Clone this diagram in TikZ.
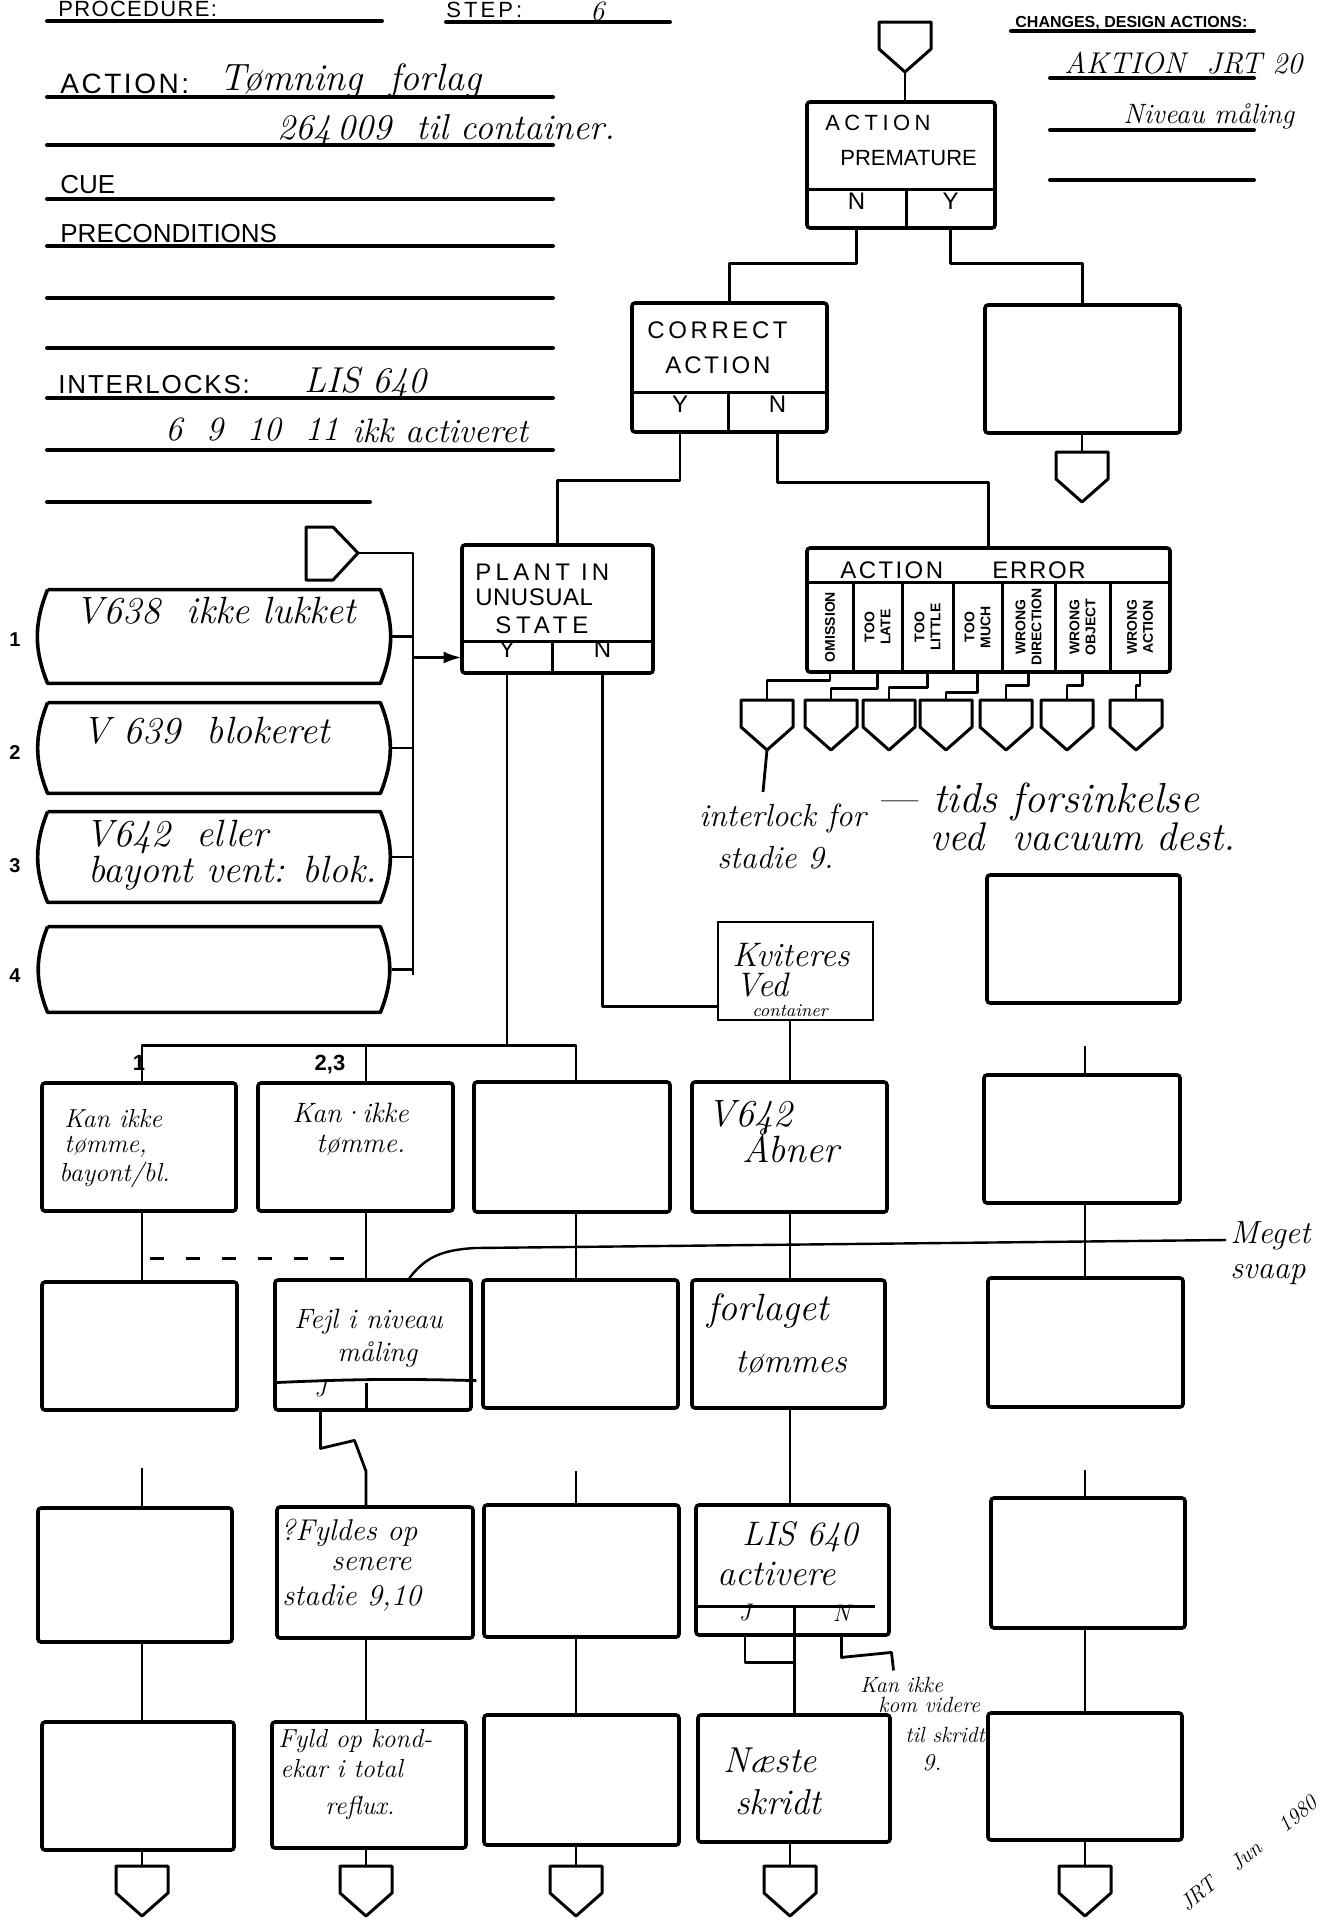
\documentclass[tikz,border=0pt]{standalone}
\usepackage{fontspec}
\newfontfamily\lett{Liberation Sans}
\usetikzlibrary{fit,calc,arrows.meta}
\newcommand\hw{\normalfont\itshape}
\newcommand\LS[1]{\addfontfeature{LetterSpace=#1}}
\tikzset{
  frame/.style={draw, line width=1.8pt, rounded corners=1.5pt, inner sep=0pt},
  hframe/.style={draw, line width=1.2pt, inner sep=0pt},
  ghost/.style={inner sep=0pt},
  cell/.style={inner sep=0pt, font=\lett\fontsize{12}{14}\selectfont},
  bline/.style={line width=1.8pt},
  conn/.style={line width=1.4pt, line join=round},
  uline/.style={line width=2pt, line cap=round},
  pentst/.style={line width=1.5pt, line join=round},
  lab/.style={inner sep=0pt, anchor=base west, font=\lett\fontsize{#1}{#1}\selectfont},
  lab/.default=13,
  hand/.style={inner sep=0pt, anchor=base west, font=\hw\fontsize{#1}{#1}\selectfont},
  hand/.default=17,
  colt/.style={inner sep=0pt, rotate=90, align=center, font=\lett\bfseries\fontsize{7}{8}\selectfont},
}
\newcommand\pentD[3]{%
  \coordinate (#1) at (#2,#3);
  \coordinate (#1-tip) at (#2,#3+50);
  \draw[pentst] (#2-26,#3) -- (#2+26,#3) -- (#2+26,#3+27) -- (#1-tip) -- (#2-26,#3+27) -- cycle;}
\newcommand\barrel[5]{%
  \node[ghost, fit={(#2,#3)(#4,#5)}] (#1) {};
  \draw[bline, line join=round] (#1.north west) -- (#1.north east) to[bend left=22] (#1.south east) -- (#1.south west) to[bend left=22] (#1.north west);}
\newcommand\frm[6][]{\node[frame,#1,fit={(#3,#4)(#5,#6)}] (#2) {};}
\newcommand\cel[6]{\node[cell,fit={(#2,#3)(#4,#5)}] (#1) {#6};}
\begin{document}
\begin{tikzpicture}[x=0.5pt,y=-0.5pt]
\useasboundingbox (0,0) rectangle (1335,1922);
\fill[white] (0,0) rectangle (1335,1922);

% ---------------- header, left
\draw[uline] (47,21) -- (382,21);
\node[lab=11] (tproc) at (58,17) {\LS{6}PROCEDURE:};
\draw[uline] (446,22) -- (670,22);
\node[lab=11] (tstep) at (446,18) {\LS{14}STEP:};
\node[hand=14] (tstepn) at (590,20) {6};
\draw[uline] (47,97) -- (553,97);
\node[lab=14] (tact) at (60,93) {\LS{9}ACTION:};
\node[hand=19] (tact1) at (219,90) {Tømning\ \ forlag};
\draw[uline] (47,145) -- (553,145);
\node[hand=18] (tact2) at (277,139) {264\,009\ \ til container.};
\draw[uline] (47,199) -- (553,199);
\node[lab] (tcue) at (60,193) {CUE};
\draw[uline] (47,246) -- (553,246);
\node[lab] (tpre) at (60,242) {PRECONDITIONS};
\draw[uline] (47,298) -- (553,298);
\draw[uline] (47,348) -- (553,348);
\draw[uline] (47,398) -- (553,398);
\node[lab] (tint) at (58,393) {\LS{7}INTERLOCKS:};
\node[hand=18] (tint1) at (304,392) {LIS 640};
\draw[uline] (47,450) -- (553,450);
\node[hand=17] (tint2) at (165,440) {6\ \ 9\ \ 10\ \ 11};
\node[hand=17] (tint3) at (352,442) {ikk activeret};
\draw[uline] (47,502) -- (370,502);

% ---------------- header, right
\node[inner sep=0pt, anchor=base west, font=\lett\bfseries\fontsize{8}{9}\selectfont] (tchg) at (1015,27) {CHANGES, DESIGN ACTIONS:};
\draw[uline] (1011,31) -- (1254,31);
\node[hand=15] (takt) at (1064,73) {AKTION\ \ JRT 20};
\draw[uline] (1050,78) -- (1254,78);
\node[hand=14] (tniv) at (1123,123) {Niveau måling};
\draw[uline] (1050,130) -- (1254,130);
\draw[uline] (1050,180) -- (1254,180);

% ---------------- ACTION PREMATURE
\pentD{tp}{905}{22}
\frm{ap}{807}{102}{995}{228}
\cel{apN}{807}{190}{906}{228}{N}
\cel{apY}{906}{190}{995}{228}{Y}
\draw[bline] (apN.north west) -- (apY.north east);
\draw[bline] (apN.north east) -- (apN.south east);
\node[lab=11] (tap1) at (825,130) {\LS{20}ACTION};
\node[lab=11] (tap2) at (840,165) {PREMATURE};
\draw[conn] (tp-tip) -- (tp-tip |- ap.north);

% ---------------- CORRECT ACTION
\frm{ca}{632}{303}{827}{432}
\cel{caY}{632}{393}{728}{432}{Y}
\cel{caN}{728}{393}{827}{432}{N}
\draw[bline] (caY.north west) -- (caN.north east);
\draw[bline] (caY.north east) -- (caY.south east);
\node[lab=12] (tca1) at (647,338) {\LS{15}CORRECT};
\node[lab=12] (tca2) at (665,373) {\LS{12}ACTION};
\draw[conn] (apN.south) -- ++(0,35) -| (ca.north);

% ---------------- right box under Y
\frm{rb}{985}{305}{1180}{433}
\draw[conn] (apY.south) -- ++(0,35) -| (rb.north);
\pentD{pr}{1082}{452}
\draw[conn] (rb.south -| pr) -- (pr);

% ---------------- PLANT IN UNUSUAL STATE
\frm{pl}{462}{545}{653}{673}
\cel{plY}{462}{642}{552}{673}{Y}
\cel{plN}{552}{642}{653}{673}{N}
\draw[bline] (plY.north west) -- (plN.north east);
\draw[bline] (plY.north east) -- (plY.south east);
\node[lab=12] (tpl1) at (475,580) {\LS{18}PLANT IN};
\node[lab=12] (tpl2) at (475,605) {\LS{2}UNUSUAL};
\node[lab=12] (tpl3) at (495,633) {\LS{20}STATE};
\draw[conn] (caY.south) -- ++(0,48) -| (pl.north);

% ---------------- ACTION ERROR
\frm{ae}{807}{548}{1170}{672}
\node[ghost, fit={(807,548)(1170,582)}] (aet) {};
\draw[bline] (aet.south west) -- (aet.south east);
\node[lab=12] (tae1) at (840,578) {\LS{10}ACTION};
\node[lab=12] (tae2) at (992,578) {\LS{7}ERROR};
\draw[conn] (caN.south) -- ++(0,50) -| (ae.north);
\node[ghost, fit={(807,582)(853,672)}] (ae1) {};
\node[ghost, fit={(853,582)(902,672)}] (ae2) {};
\node[ghost, fit={(902,582)(953,672)}] (ae3) {};
\node[ghost, fit={(953,582)(1002,672)}] (ae4) {};
\node[ghost, fit={(1002,582)(1055,672)}] (ae5) {};
\node[ghost, fit={(1055,582)(1110,672)}] (ae6) {};
\node[ghost, fit={(1110,582)(1170,672)}] (ae7) {};
\foreach \c in {ae1,ae2,ae3,ae4,ae5,ae6} \draw[bline] (\c.north east) -- (\c.south east);
\node[colt] (ae1t) at (ae1) {OMISSION};
\node[colt] (ae2t) at (ae2) {TOO\\LATE};
\node[colt] (ae3t) at (ae3) {TOO\\LITTLE};
\node[colt] (ae4t) at (ae4) {TOO\\MUCH};
\node[colt] (ae5t) at (ae5) {WRONG\\DIRECTION};
\node[colt] (ae6t) at (ae6) {WRONG\\OBJECT};
\node[colt] (ae7t) at (ae7) {WRONG\\ACTION};
\pentD{pe1}{767}{700}
\pentD{pe2}{831}{700}
\pentD{pe3}{889}{700}
\pentD{pe4}{946}{700}
\pentD{pe5}{1006}{700}
\pentD{pe6}{1067}{700}
\pentD{pe7}{1136}{700}
\draw[conn] (ae1.south) -- ++(0,8) -| (pe1);
\draw[conn] (ae2.south) -- ++(0,16) -| (pe2);
\draw[conn] (ae3.south) -- ++(0,15) -| (pe3);
\draw[conn] (ae4.south) -- ++(0,20) -| (pe4);
\draw[conn] (ae5.south) -- ++(0,13) -| (pe5);
\draw[conn] (ae6.south) -- ++(0,13) -| (pe6);
\draw[conn] (ae7.south) -- ++(0,13) -| (pe7);
\coordinate (il) at (763,792);
\draw[conn] (pe1-tip) -- (il);
\node[hand=16] (tan1) at (699,826) {interlock for};
\node[hand=16] (tan2) at (717,868) {stadie 9.};
\node[hand=21] (tan3) at (876,812) {—\ tids forsinkelse};
\node[hand=20] (tan4) at (930,850) {ved\ \ vacuum dest.};
\frm{rbx}{987}{875}{1180}{1003}

% ---------------- left: entry connector and condition boxes
\coordinate (lp-tip) at (358,553);
\draw[pentst] (306,527) -- (333,527) -- (lp-tip) -- (333,580) -- (306,580) -- cycle;
\coordinate (busT) at (413,553);
\coordinate (busB) at (413,975);
\draw[conn] (lp-tip) -- (busT) -- (busB);
\barrel{b1}{48}{590}{380}{683}
\barrel{b2}{48}{703}{380}{793}
\barrel{b3}{48}{812}{380}{902}
\barrel{b4}{48}{927}{380}{1012}
\foreach \b in {b1,b2,b3,b4} \draw[conn] ($(\b.east)+(12,0)$) -- (\b.east -| busT);
\draw[conn, -{Latex[length=9pt,width=6pt]}] (plY.west -| busT) -- (plY.west);
\node[inner sep=0pt, font=\lett\bfseries\fontsize{10}{10}\selectfont] (n1) at (15,640) {1};
\node[inner sep=0pt, font=\lett\bfseries\fontsize{10}{10}\selectfont] (n2) at (15,753) {2};
\node[inner sep=0pt, font=\lett\bfseries\fontsize{10}{10}\selectfont] (n3) at (15,866) {3};
\node[inner sep=0pt, font=\lett\bfseries\fontsize{10}{10}\selectfont] (n4) at (15,976) {4};
\node[hand=19] (tb1) at (75,623) {V638\ \ ikke lukket};
\node[hand=19] (tb2) at (82,743) {V 639\ \ blokeret};
\node[hand=19] (tb3) at (85,846) {V642\ \ eller};
\node[hand=19] (tb4) at (88,882) {bayont vent: blok.};

% ---------------- Kviteres box
\node[hframe, fit={(718,922)(873,1020)}] (kv) {};
\node[hand=17] (tkv1) at (732,966) {Kviteres};
\node[hand=17] (tkv2) at (735,996) {Ved};
\node[hand=9] (tkv3) at (752,1016) {container};
\draw[conn] (plN.south) |- ($(kv.south west)+(0,-15)$);

% ---------------- grid of boxes
\coordinate (X1) at (142,0);
\coordinate (X2) at (366,0);
\coordinate (X3) at (576,0);
\coordinate (X4) at (790,0);
\coordinate (X5) at (1085,0);
\frm{r1c1}{42}{1083}{236}{1211}
\frm{r1c2}{258}{1083}{453}{1211}
\frm{r1c3}{474}{1082}{670}{1212}
\frm{r1c4}{692}{1082}{887}{1212}
\frm{r1c5}{984}{1075}{1180}{1203}
\frm{r2c1}{42}{1282}{237}{1410}
\frm{r2c2}{275}{1280}{471}{1410}
\frm{r2c3}{483}{1280}{678}{1408}
\frm{r2c4}{692}{1280}{885}{1408}
\frm{r2c5}{988}{1278}{1183}{1407}
\frm{r3c1}{38}{1508}{232}{1642}
\frm{r3c2}{277}{1507}{473}{1638}
\frm{r3c3}{484}{1505}{679}{1637}
\frm{r3c4}{696}{1505}{889}{1635}
\frm{r3c5}{991}{1498}{1185}{1628}
\frm{r4c1}{42}{1722}{234}{1850}
\frm{r4c2}{272}{1722}{466}{1848}
\frm{r4c3}{484}{1715}{679}{1845}
\frm{r4c4}{698}{1715}{890}{1842}
\frm{r4c5}{988}{1713}{1182}{1840}

% bus from PLANT Y
\draw[conn] (plY.south) -- ($(plY.south |- r1c3.north)+(0,-35)$);
\draw[conn] (r1c1.north -| X1) -- ($(r1c1.north -| X1)+(0,-36)$) -- ($(r1c3.north -| X3)+(0,-35)$) -- (r1c3.north -| X3);
\draw[conn] (r1c2.north -| X2) -- ($(r1c2.north -| X2)+(0,-36)$);
\node[inner sep=0pt, font=\lett\bfseries\fontsize{11}{11}\selectfont] (l1) at (139,1063) {1};
\node[inner sep=0pt, font=\lett\bfseries\fontsize{11}{11}\selectfont] (l23) at (330,1065) {2,3};
\draw[conn] (kv.south -| X4) -- (r1c4.north -| X4);
\draw[conn] ($(r1c5.north -| X5)+(0,-27)$) -- (r1c5.north -| X5);

% row 1 -> row 2
\draw[conn] (r1c1.south -| X1) -- (r2c1.north -| X1);
\draw[conn] (r1c2.south -| X2) -- (r2c2.north -| X2);
\draw[conn] (r1c3.south -| X3) -- (r2c3.north -| X3);
\draw[conn] (r1c4.south -| X4) -- (r2c4.north -| X4);
\draw[conn] (r1c5.south -| X5) -- (r2c5.north -| X5);
\draw[conn, dash pattern=on 7pt off 11pt] ($(r1c1.south -| X1)+(8,46)$) -- ($(r1c2.south -| X2)+(0,46)$);
\coordinate (mg) at (1226,1240);
\draw[line width=1.2pt] ($(r2c2.north west)+(136,0)$) .. controls (425,1258) and (440,1250) .. (475,1248) -- (mg);
\node[hand=16] (tmg1) at (1230,1243) {Meget};
\node[hand=16] (tmg2) at (1230,1278) {svaap};

% row 1 texts
\node[hand=13] (t11a) at (64,1127) {Kan ikke};
\node[hand=13] (t11b) at (64,1152) {tømme,};
\node[hand=13] (t11c) at (59,1181) {bayont/bl.};
\node[hand=14] (t12a) at (292,1122) {Kan·ikke};
\node[hand=14] (t12b) at (316,1152) {tømme.};
\node[hand=19] (t14a) at (707,1126) {V642};
\node[hand=19] (t14b) at (742,1162) {Åbner};

% row 2 details
\cel{r2c2J}{275}{1383}{366}{1410}{\hw J}
\cel{r2c2R}{366}{1383}{471}{1410}{}
\draw[conn] (r2c2J.north west) to[bend left=2] ($(r2c2R.north east)+(5,-2)$);
\draw[conn] (r2c2J.north east) -- (r2c2J.south east);
\node[hand=14] (t22a) at (294,1328) {Fejl i niveau};
\node[hand=14] (t22b) at (337,1361) {måling};
\node[hand=19] (t24a) at (707,1320) {forlaget};
\node[hand=17] (t24b) at (735,1372) {tømmes};

% row 2 -> row 3
\draw[conn] ($(r3c1.north -| X1)+(0,-38)$) -- (r3c1.north -| X1);
\draw[conn] (r2c2J.south) -- ++(0,38) -- ++(34,-8) -- ($(r3c2.north -| X2)+(0,-34)$) -- (r3c2.north -| X2);
\draw[conn] ($(r3c3.north -| X3)+(0,-32)$) -- (r3c3.north -| X3);
\draw[conn] (r2c4.south -| X4) -- (r3c4.north -| X4);
\draw[conn] ($(r3c5.north -| X5)+(0,-26)$) -- (r3c5.north -| X5);

% row 3 details
\node[hand=15] (t32a) at (280,1540) {?Fyldes op};
\node[hand=15] (t32b) at (331,1570) {senere};
\node[hand=15] (t32c) at (282,1605) {stadie 9,10};
\cel{r3c4J}{696}{1607}{794}{1635}{\hw J}
\cel{r3c4N}{794}{1607}{889}{1635}{\hw N}
\draw[conn] (r3c4J.north west) -- ($(r3c4N.north east)+(-14,0)$);
\node[hand=17] (t34a) at (742,1545) {LIS 640};
\node[hand=18] (t34b) at (717,1585) {activere};

% row 3 -> row 4
\draw[conn] (r3c1.south -| X1) -- (r4c1.north -| X1);
\draw[conn] (r3c2.south -| X2) -- (r4c2.north -| X2);
\draw[conn] (r3c3.south -| X3) -- (r4c3.north -| X3);
\draw[conn] (r3c4J.north east) -- (r3c4J.north east |- r4c4.north);
\draw[conn] (r3c4J.south) |- ($(r3c4J.south east)+(0,27)$);
\draw[conn] (r3c4N.south) -- ++(0,22) -- ++(50,-5) -- ++(2,18);
\draw[conn] (r3c5.south -| X5) -- (r4c5.north -| X5);
\node[hand=11] (tkn1) at (860,1692) {Kan ikke};
\node[hand=11] (tkn2) at (878,1712) {kom videre};
\node[hand=11] (tkn3) at (905,1742) {til skridt};
\node[hand=12] (tkn4) at (922,1770) {9.};

% row 4 texts
\node[hand=13] (t42a) at (278,1747) {Fyld op kond-};
\node[hand=13] (t42b) at (280,1777) {ekar i total};
\node[hand=13] (t42c) at (325,1814) {reflux.};
\node[hand=18] (t44a) at (723,1772) {Næste};
\node[hand=18] (t44b) at (735,1814) {skridt};

% bottom exits
\pentD{pb1}{142}{1866}
\pentD{pb2}{366}{1866}
\pentD{pb3}{576}{1866}
\pentD{pb4}{790}{1866}
\pentD{pb5}{1085}{1866}
\draw[conn] (r4c1.south -| pb1) -- (pb1);
\draw[conn] (r4c2.south -| pb2) -- (pb2);
\draw[conn] (r4c3.south -| pb3) -- (pb3);
\draw[conn] (r4c4.south -| pb4) -- (pb4);
\draw[conn] (r4c5.south -| pb5) -- (pb5);
\node[hand=11, rotate=40, anchor=center] (sig1) at (1198,1894) {JRT};
\node[hand=11, rotate=40, anchor=center] (sig2) at (1246,1856) {Jun};
\node[hand=11, rotate=40, anchor=center] (sig3) at (1298,1814) {1980};
\end{tikzpicture}
\end{document}
